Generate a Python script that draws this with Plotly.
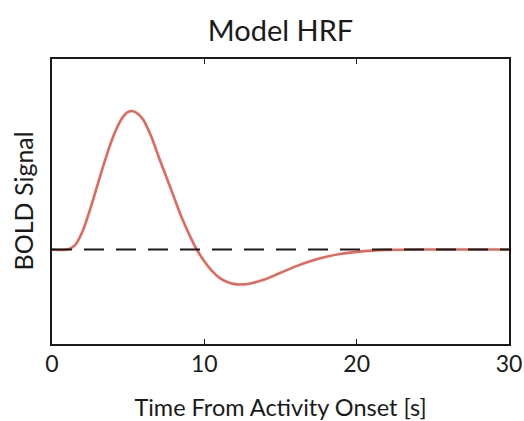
import plotly.graph_objects as go

# Time (s) and model HRF amplitude
time_s = [0, 1, 1.5, 2, 2.5, 3, 3.5, 4, 4.5, 4.75, 5, 5.25, 5.5, 5.75, 6, 6.5, 7, 7.5,
          8, 8.5, 9, 9.5, 10, 10.5, 11, 11.5, 12, 12.5, 13, 14, 15, 16, 17, 18, 19, 20,
          21, 22, 24, 26, 28, 30]
bold = [0, 0.0, 0.03, 0.13, 0.29, 0.47, 0.65, 0.81, 0.93, 0.97, 0.993, 1.0, 0.99, 0.968,
        0.935, 0.82, 0.67, 0.525, 0.38, 0.235, 0.11, 0.0, -0.085, -0.155, -0.205, -0.235,
        -0.25, -0.252, -0.245, -0.215, -0.168, -0.122, -0.083, -0.053, -0.031, -0.017,
        -0.008, -0.003, 0, 0, 0, 0]

baseline_x = [0, 30]
baseline_y = [0, 0]

x_ticks = [0, 10, 20, 30]
x_tick_labels = ["0", "10", "20", "30"]

FONT = "Lato"
INK = "#1a1a1a"

fig = go.Figure()
fig.add_trace(go.Scatter(x=time_s, y=bold, mode="lines",
                         line=dict(color="#e4685a", width=2.6, shape="spline", smoothing=1.0),
                         hoverinfo="skip", showlegend=False))
fig.add_trace(go.Scatter(x=baseline_x, y=baseline_y, mode="lines",
                         line=dict(color=INK, width=2, dash="20px,12px"),
                         hoverinfo="skip", showlegend=False))

fig.update_layout(
    width=524, height=421,
    margin=dict(l=52, r=15, t=59, b=77, autoexpand=False),
    paper_bgcolor="white", plot_bgcolor="white",
    title=dict(text="Model HRF", x=0.5, xanchor="center", xref="paper",
               y=1 - 41 / 421, yanchor="bottom", yref="container",
               font=dict(family=FONT, size=29, color=INK)),
    font=dict(family=FONT, color=INK),
    annotations=[dict(text="BOLD Signal", xref="paper", yref="paper",
                      x=-30 / 457, y=0.5, xanchor="center", yanchor="middle",
                      textangle=-90, showarrow=False,
                      font=dict(family=FONT, size=25, color=INK))],
)
fig.update_xaxes(
    range=[0, 30], tickvals=x_ticks, ticktext=x_tick_labels,
    ticks="inside", ticklen=5, tickwidth=1.2, tickcolor=INK,
    showline=True, linecolor=INK, linewidth=1.5, mirror="ticks",
    showgrid=False, zeroline=False, ticklabelstandoff=-1,
    tickfont=dict(family=FONT, size=23, color=INK),
    title=dict(text="Time From Activity Onset [s]", standoff=25,
               font=dict(family=FONT, size=23.5, color=INK)),
    automargin=False,
)
fig.update_yaxes(
    range=[-0.682, 1.375], showticklabels=False, ticks="",
    showline=True, linecolor=INK, linewidth=1.5, mirror=True,
    showgrid=False, zeroline=False,
    automargin=False,
)

fig.write_html("out.html", config={"displayModeBar": False},
               post_script="document.body.style.margin='0';")
